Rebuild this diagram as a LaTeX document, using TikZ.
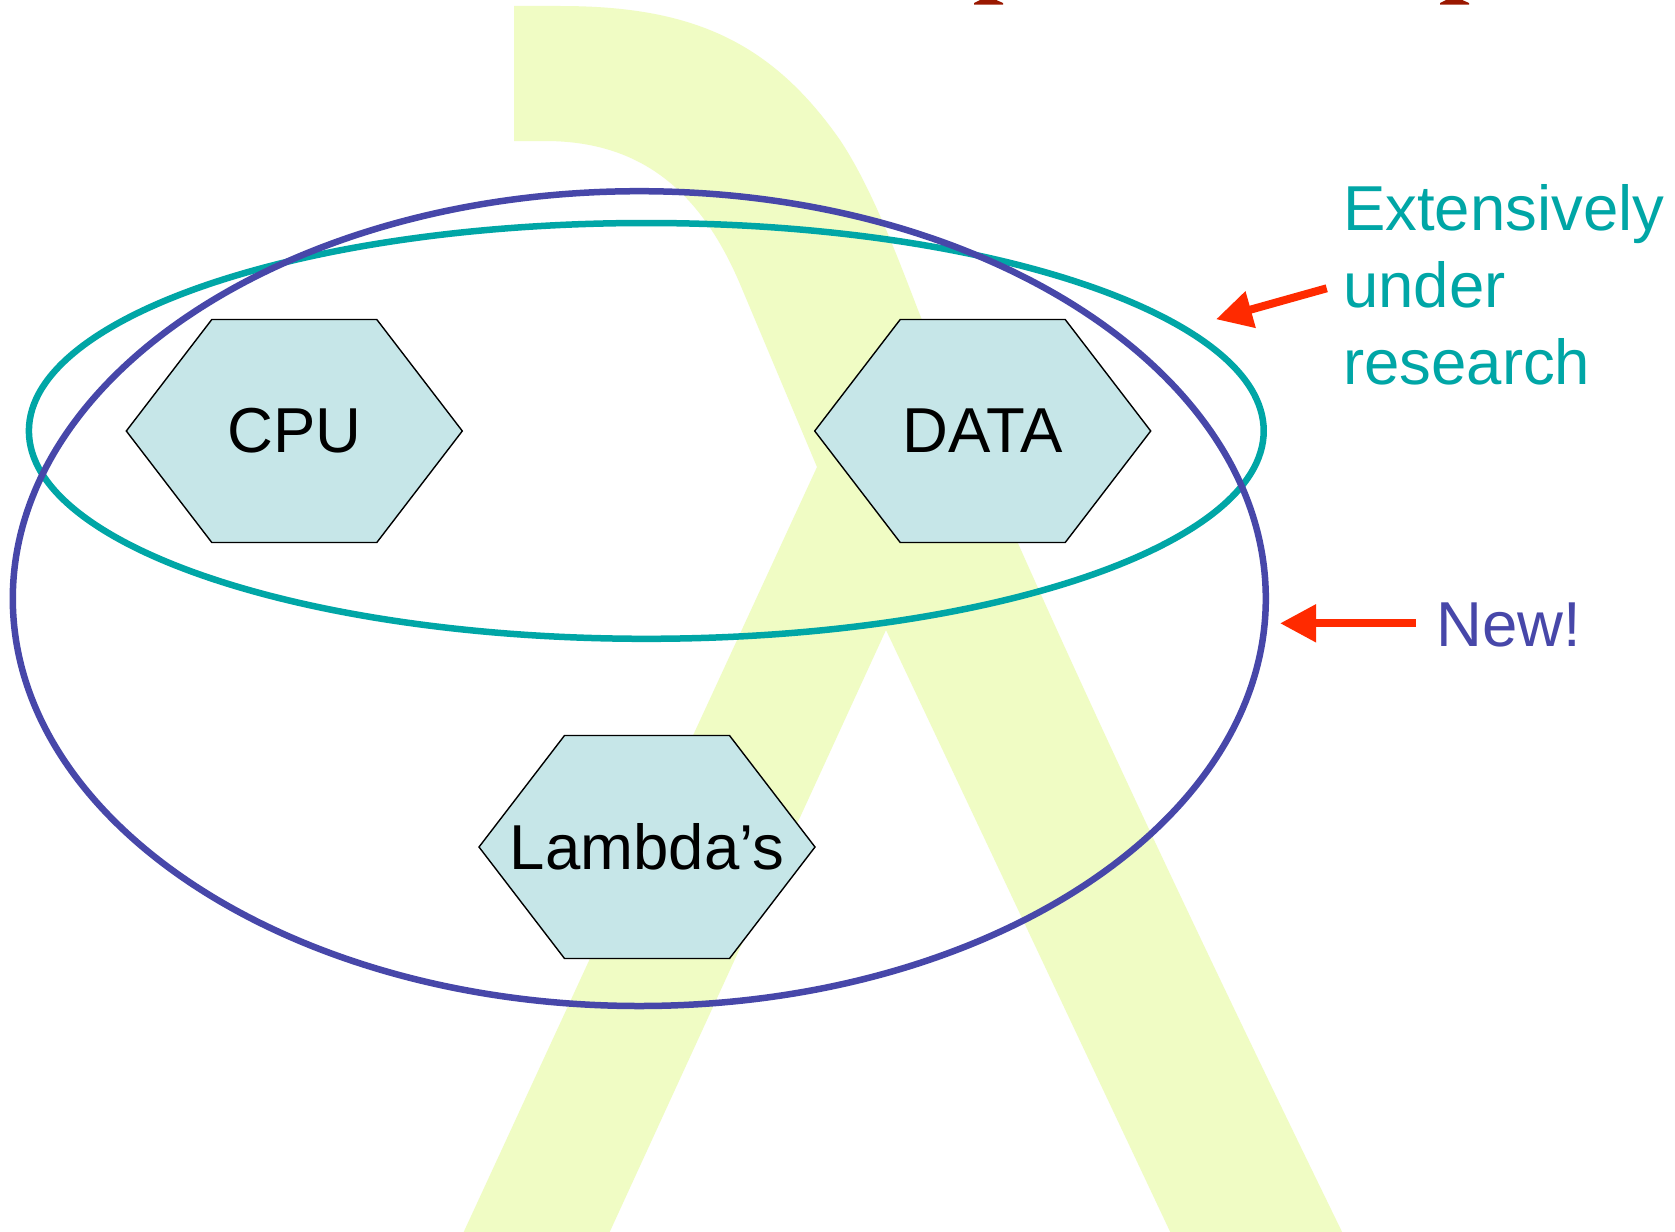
\documentclass[tikz,border=0pt]{standalone}
\usepackage{fontspec}
\setmainfont{Liberation Sans}
\usetikzlibrary{shapes.geometric,arrows.meta,calc}

\definecolor{lambdatint}{HTML}{F0FCC4}
\definecolor{ringblue}{HTML}{4747A9}
\definecolor{ringteal}{HTML}{00A6A6}
\definecolor{tilefill}{HTML}{C6E6E8}
\definecolor{arrowred}{HTML}{FF2A00}
\definecolor{darkred}{HTML}{9A1800}

\pgfdeclarelayer{backdrop}
\pgfdeclarelayer{tiles}
\pgfsetlayers{backdrop,tiles,main}

\tikzset{
  bigtext/.style={font=\fontsize{63.5}{76.7}\selectfont},
  tile/.style={rectangle, minimum width=336pt, minimum height=223pt,
    inner sep=0pt, outer sep=0pt, bigtext},
  tileframe/.style={fill=tilefill, draw=black, line width=1.4pt, line join=miter},
  ring/.style={ellipse, draw, line width=6.5pt, inner sep=0pt, outer sep=0pt},
  pointer/.style={draw=arrowred, line width=8pt,
    -{Triangle[length=36pt,width=36pt]}},
}

% hexagonal tile drawn behind the text of a tile node
\newcommand\hexframe[1]{%
  \begin{pgfonlayer}{tiles}
    \path[tileframe] (#1.west) -- ($(#1.north west)+(85.5,0)$)
      -- ($(#1.north east)+(-85.5,0)$) -- (#1.east)
      -- ($(#1.south east)+(-85.5,0)$) -- ($(#1.south west)+(85.5,0)$) -- cycle;
  \end{pgfonlayer}}

\begin{document}
\begin{tikzpicture}[x=1pt, y=-1pt]
\useasboundingbox (0,0) rectangle (1675,1231);
\clip (0,0) rectangle (1675,1231);

% white page and large lambda watermark
\begin{pgfonlayer}{backdrop}
  \fill[white] (0,0) rectangle (1675,1231);
  \fill[lambdatint] (514,6) -- (560,6)
    .. controls (690,6) and (770,40) .. (840,140)
    .. controls (870,185) and (895,250) .. (918,310)
    .. controls (1020,560) and (1180,900) .. (1346,1240)
    -- (1174,1240) -- (886,630) -- (606,1240) -- (460,1240) -- (817,467)
    -- (740,284) .. controls (700,190) and (640,141) .. (545,141)
    -- (514,141) -- cycle;
\end{pgfonlayer}

% marks at the top edge
\fill[darkred] (982,-1) -- (994,-1) -- (1003,3) -- (1003,4.6)
  -- (974,4.6) -- (974,3) -- cycle;
\fill[darkred] (1448,-1) -- (1460,-1) -- (1469,3) -- (1469,4.6)
  -- (1440,4.6) -- (1440,3) -- cycle;

% rings
\node[ring, draw=ringteal, minimum width=1234.8pt, minimum height=415.8pt]
  (oldring) at (646.3,430.9) {};
\node[ring, draw=ringblue, minimum width=1253pt, minimum height=814.8pt]
  (newring) at (639.3,598.6) {};

% tiles
\node[tile] (cpu) at (294.3,431) {CPU};
\node[tile] (data) at (982.7,431) {DATA};
\node[tile] (lambdas) at (647,847) {Lambda’s};
\hexframe{cpu}
\hexframe{data}
\hexframe{lambdas}

% annotations (the base anchor sits on the last line)
\node[bigtext, text=ringteal, align=left, anchor=base west, inner sep=0pt]
  (research) at (1343,384.1) {Extensively\\under\\research};
\node[bigtext, text=ringblue, anchor=base west, inner sep=0pt]
  (newtag) at (1436,646.7) {New!};

\coordinate (researchtail) at (1326.7,288.3);
\coordinate (researchtip) at (1216,319.3);
\coordinate (newtail) at (1415.5,623.3);
\coordinate (newtip) at (1280,623.3);
\draw[pointer] (researchtail) -- (researchtip);
\draw[pointer] (newtail) -- (newtip);
\end{tikzpicture}
\end{document}
